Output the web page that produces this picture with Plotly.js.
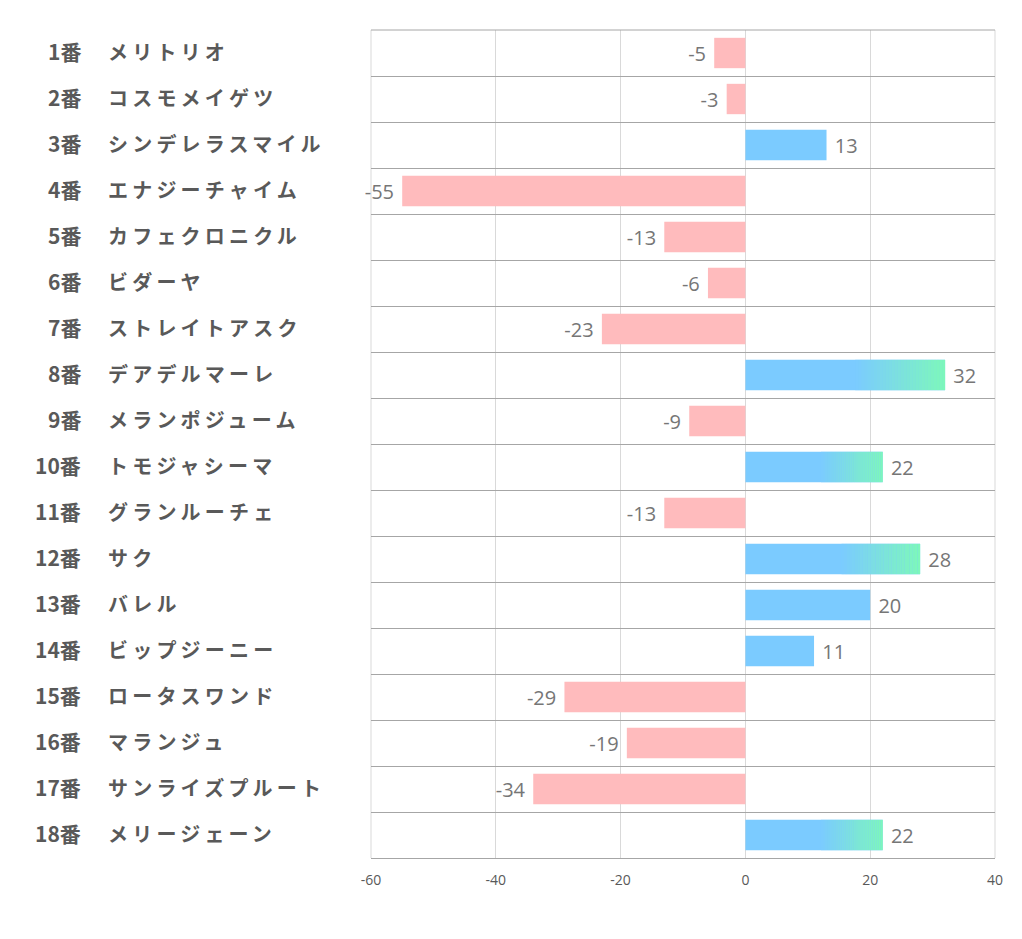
<!DOCTYPE html>
<html><head><meta charset="utf-8">
<script src="https://cdn.plot.ly/plotly-3.0.1.min.js"></script>
<style>html,body{margin:0;padding:0;background:#fff}#chart{width:1022px;height:939px}</style>
</head><body><div id="chart"></div>
<script>
const nums = ['1番','2番','3番','4番','5番','6番','7番','8番','9番','10番','11番','12番','13番','14番','15番','16番','17番','18番'];
const names = ['メリトリオ','コスモメイゲツ','シンデレラスマイル','エナジーチャイム','カフェクロニクル','ビダーヤ','ストレイトアスク','デアデルマーレ','メランポジューム','トモジャシーマ','グランルーチェ','サク','バレル','ビップジーニー','ロータスワンド','マランジュ','サンライズプルート','メリージェーン'];
const values = [-5,-3,13,-55,-13,-6,-23,32,-9,22,-13,28,20,11,-29,-19,-34,22];
const xTicks = [-60,-40,-20,0,20,40];

const PINK = '#FFBBBD', BLUE = [123,203,255], GREEN = [125,248,186];
const rgb = c => `rgb(${c[0]},${c[1]},${c[2]})`;
const BW = 0.66;

const mainTrace = {
  type:'bar', orientation:'h', y: nums, x: values, width: BW,
  marker:{color: values.map(v => v < 0 ? PINK : rgb(BLUE)), line:{width:0}},
  text: values.map(v => v < 0 ? String(v) + ' ' : ' ' + String(v)), textposition:'outside', cliponaxis:false,
  textfont:{family:'Open Sans, Noto Sans, sans-serif', size:20, color:'#767676'},
  hoverinfo:'skip'
};

// gradient overlay for bars above 20
const N = 30;
const gy=[], gb=[], gx=[], gc=[];
values.forEach((v,i) => {
  if (v > 20) {
    const s = 0.55*v, step = (v - s)/N;
    for (let k=0;k<N;k++){
      const t = (k+0.5)/N;
      gy.push(nums[i]); gb.push(s + k*step); gx.push(step*1.02);
      gc.push(rgb(BLUE.map((b,j)=>Math.round(b + (GREEN[j]-b)*t))));
    }
  }
});
const gradTrace = {type:'bar', orientation:'h', y:gy, base:gb, x:gx, width:BW,
  marker:{color:gc, line:{width:0}}, hoverinfo:'skip', textposition:'none'};

const annotations = [];
nums.forEach((n,i) => {
  annotations.push({xref:'paper', yref:'y', x:0, y:n, xshift:-288, yshift:2, xanchor:'right', yanchor:'middle', text:n, showarrow:false,
    font:{family:'Noto Sans CJK JP, sans-serif', size:21, color:'#595959', weight:700}});
  annotations.push({xref:'paper', yref:'y', x:0, y:n, xshift:-264, yshift:2, xanchor:'left', align:'left', yanchor:'middle', text:names[i], showarrow:false,
    font:{family:'Noto Sans CJK JP, sans-serif', size:20, color:'#595959', weight:700}});
});

const shapes = [
  {type:'line', xref:'paper', yref:'paper', x0:0, x1:1, y0:1, y1:1, line:{color:'#a6a6a6', width:1}},
  {type:'line', xref:'paper', yref:'paper', x0:0, x1:0, y0:0, y1:1, line:{color:'#d9d9d9', width:1}, layer:'below'},
  {type:'line', xref:'paper', yref:'paper', x0:1, x1:1, y0:0, y1:1, line:{color:'#d9d9d9', width:1}, layer:'below'}
];

const layout = {
  width:1022, height:939, margin:{l:371, r:27, t:30, b:81},
  paper_bgcolor:'#fff', plot_bgcolor:'#fff', showlegend:false,
  barmode:'overlay',
  xaxis:{range:[-60,40], tickvals:xTicks, ticktext:xTicks.map(String), showgrid:true, gridcolor:'#d9d9d9', gridwidth:1,
    zeroline:false, showline:true, linecolor:'#a6a6a6', linewidth:1, ticks:'', ticklabelstandoff:9,
    tickfont:{family:'Open Sans, Noto Sans, sans-serif', size:14, color:'#595959'}, fixedrange:true},
  yaxis:{type:'category', categoryorder:'array', categoryarray:nums, autorange:'reversed', showticklabels:false,
    showgrid:true, gridcolor:'#a6a6a6', gridwidth:1, tickson:'boundaries', ticks:'', zeroline:false, showline:false},
  annotations: annotations, shapes: shapes,
  font:{family:'Noto Sans, sans-serif'}
};

Plotly.newPlot('chart', [mainTrace, gradTrace], layout, {staticPlot:true, displayModeBar:false}).then(gd => {
  const plotLeft = gd._fullLayout._size.l;
  gd.querySelectorAll('.annotation-text').forEach(el => {
    if (names.includes(el.textContent)) {
      el.style.letterSpacing = '4.2px';
      const bb = el.getBoundingClientRect();
      const gbb = gd.getBoundingClientRect();
      const target = plotLeft - 263;
      const dx = target - (bb.left - gbb.left);
      el.setAttribute('transform', `translate(${dx},0)`);
    }
  });
});
</script></body></html>
